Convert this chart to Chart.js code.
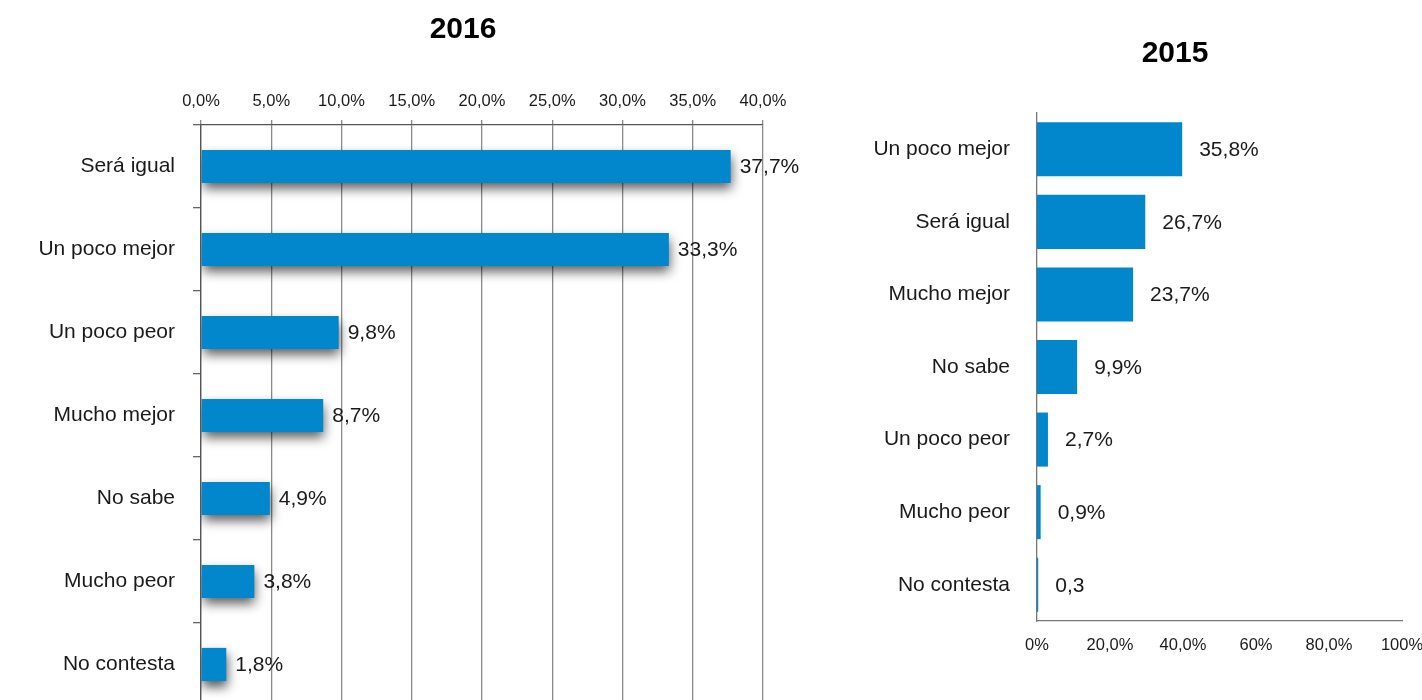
<!DOCTYPE html>
<html>
<head>
<meta charset="utf-8">
<script src="https://cdn.jsdelivr.net/npm/chart.js@4.4.1/dist/chart.umd.min.js"></script>
<style>
  html, body { margin: 0; padding: 0; background: #fff; overflow: hidden; width: 1422px; height: 700px; }
  #chart2016 { position: absolute; left: 0; top: 0; }
  #chart2015 { position: absolute; left: 840px; top: 0; }
</style>
</head>
<body>
<canvas id="chart2016" width="840" height="720"></canvas>
<canvas id="chart2015" width="582" height="700"></canvas>
<script>
// datos 2016
var categorias2016 = ['Será igual', 'Un poco mejor', 'Un poco peor', 'Mucho mejor', 'No sabe', 'Mucho peor', 'No contesta'];
var valores2016 = [37.7, 33.3, 9.8, 8.7, 4.9, 3.8, 1.8];
var etiquetas2016 = ['37,7%', '33,3%', '9,8%', '8,7%', '4,9%', '3,8%', '1,8%'];

// datos 2015
var categorias2015 = ['Un poco mejor', 'Será igual', 'Mucho mejor', 'No sabe', 'Un poco peor', 'Mucho peor', 'No contesta'];
var valores2015 = [35.8, 26.7, 23.7, 9.9, 2.7, 0.9, 0.3];
var etiquetas2015 = ['35,8%', '26,7%', '23,7%', '9,9%', '2,7%', '0,9%', '0,3'];
var ejeX2015 = ['0%', '20,0%', '40,0%', '60%', '80,0%', '100%'];

var azul = '#0287CC';
var fuente = "'Liberation Sans', Arial, Helvetica, sans-serif";

// sombra de las barras (solo 2016)
const sombraBarras = {
  id: 'sombraBarras',
  beforeDatasetDraw(chart) {
    if (!chart.options.plugins.sombraBarras.enabled) return;
    const ctx = chart.ctx;
    ctx.save();
    ctx.shadowColor = 'rgba(0,0,0,0.65)';
    ctx.shadowBlur = 11;
    ctx.shadowOffsetX = 1;
    ctx.shadowOffsetY = 6;
  },
  afterDatasetDraw(chart) {
    if (!chart.options.plugins.sombraBarras.enabled) return;
    chart.ctx.restore();
  }
};

// etiquetas de valor a la derecha de cada barra
const etiquetasValor = {
  id: 'etiquetasValor',
  afterDatasetsDraw(chart) {
    const cfg = chart.options.plugins.etiquetasValor;
    const ctx = chart.ctx;
    const meta = chart.getDatasetMeta(0);
    ctx.save();
    ctx.font = '21px ' + fuente;
    ctx.fillStyle = '#1a1a1a';
    ctx.textAlign = 'left';
    ctx.textBaseline = 'middle';
    meta.data.forEach(function (bar, i) {
      ctx.fillText(cfg.textos[i], bar.x + cfg.offset, bar.y + 1);
    });
    ctx.restore();
  }
};

// título centrado en una x concreta (el original no está centrado en el lienzo)
const tituloAnio = {
  id: 'tituloAnio',
  afterDraw(chart) {
    const cfg = chart.options.plugins.tituloAnio;
    const ctx = chart.ctx;
    ctx.save();
    ctx.font = 'bold 30px ' + fuente;
    ctx.fillStyle = '#000';
    ctx.textAlign = 'center';
    ctx.textBaseline = 'middle';
    ctx.fillText(cfg.text, cfg.x, cfg.y);
    ctx.restore();
  }
};

Chart.register(sombraBarras, etiquetasValor, tituloAnio);

new Chart(document.getElementById('chart2016'), {
  type: 'bar',
  data: {
    labels: categorias2016,
    datasets: [{
      data: valores2016,
      backgroundColor: azul,
      borderWidth: 0,
      barPercentage: 0.4,
      categoryPercentage: 1
    }]
  },
  options: {
    indexAxis: 'y',
    responsive: false,
    animation: false,
    layout: { padding: { left: 0, right: 77, top: 51, bottom: 14 } },
    scales: {
      x: {
        position: 'top',
        min: 0,
        max: 40,
        afterFit: function (scale) { scale.height = 74; },
        ticks: {
          stepSize: 5,
          padding: 9,
          color: '#1a1a1a',
          font: { family: fuente, size: 16.5 },
          callback: function (v) { return v.toFixed(1).replace('.', ',') + '%'; }
        },
        grid: { color: '#8a8a8a', lineWidth: 1.3, tickLength: 5 },
        border: { display: true, color: '#555', width: 1.3 }
      },
      y: {
        afterFit: function (scale) {
          scale.width = 201;
          scale.paddingBottom = 0;
        },
        ticks: {
          padding: 18,
          color: '#1a1a1a',
          font: { family: fuente, size: 21 }
        },
        grid: { offset: true, drawOnChartArea: false, tickLength: 8, color: '#666', lineWidth: 1.3 },
        border: { display: true, color: '#555', width: 1.3 }
      }
    },
    plugins: {
      legend: { display: false },
      tooltip: { enabled: false },
      title: { display: false },
      tituloAnio: { text: '2016', x: 463, y: 30 },
      sombraBarras: { enabled: true },
      etiquetasValor: { textos: etiquetas2016, offset: 9 }
    }
  }
});

new Chart(document.getElementById('chart2015'), {
  type: 'bar',
  data: {
    labels: categorias2015,
    datasets: [{
      data: valores2015,
      backgroundColor: azul,
      borderWidth: 0,
      barPercentage: 0.745,
      categoryPercentage: 1
    }]
  },
  options: {
    indexAxis: 'y',
    responsive: false,
    animation: false,
    layout: { padding: { left: 0, right: 20, top: 113, bottom: 39 } },
    scales: {
      x: {
        position: 'bottom',
        min: 0,
        max: 90,
        afterFit: function (scale) {
          scale.height = 40;
          scale.paddingRight = 0;
        },
        ticks: {
          stepSize: 18,
          padding: 15,
          color: '#1a1a1a',
          font: { family: fuente, size: 16.5 },
          callback: function (v, i) { return ejeX2015[i]; }
        },
        grid: { display: false, drawTicks: false, tickLength: 0 },
        border: { display: true, color: '#777', width: 1.3 }
      },
      y: {
        afterFit: function (scale) { scale.width = 197; },
        ticks: {
          padding: 27,
          color: '#1a1a1a',
          font: { family: fuente, size: 21 }
        },
        grid: { display: false, drawTicks: false, tickLength: 0 },
        border: { display: true, color: '#777', width: 1.3 }
      }
    },
    plugins: {
      legend: { display: false },
      tooltip: { enabled: false },
      title: { display: false },
      tituloAnio: { text: '2015', x: 335, y: 54 },
      sombraBarras: { enabled: false },
      etiquetasValor: { textos: etiquetas2015, offset: 17 }
    }
  }
});
</script>
</body>
</html>
